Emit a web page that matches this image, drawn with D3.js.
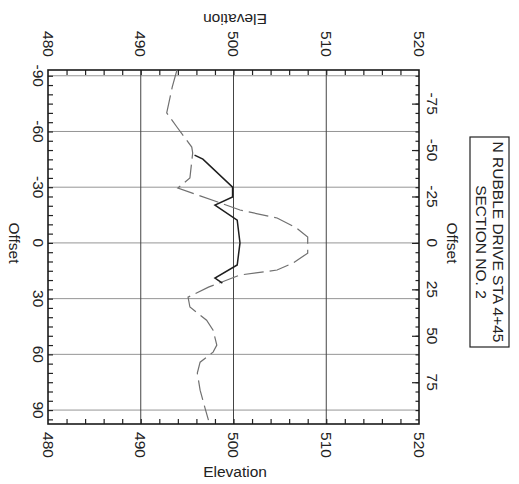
<!DOCTYPE html>
<html>
<head>
<meta charset="utf-8">
<script src="https://cdn.jsdelivr.net/npm/d3@7"></script>
<style>
  body { margin: 0; background: #fff; }
  text { font-family: "Liberation Sans", Arial, sans-serif; fill: #222; }
</style>
</head>
<body>
<script>
// cross section data (offset in ft, elevation in ft)
var groundOffset = [-93, -84, -70, -62.4, -51.6, -48.4, -35, -29.5, -22, -17.7, -13.4, -8, -3.2, -0.5, 5.5, 10.9, 14.6, 17.3, 23.8, 29.2, 34.5, 41.6, 47, 55, 58.8, 64.2, 70.1, 79.3, 88.4, 95.4];
var groundElev = [493.9, 493.4, 492.8, 493.9, 495.5, 495.6, 495.3, 494.0, 498.3, 500.7, 504.7, 506.8, 508.0, 508.0, 508.0, 506.4, 504.7, 500.7, 497.3, 495.1, 495.3, 497.1, 497.8, 498.2, 497.8, 496.4, 496.1, 496.4, 496.9, 497.3];
var designOffset = [-47.3, -45.1, -30, -24.7, -20.4, -12.3, 0, 11.9, 18.9, 21.6];
var designElev = [495.8, 496.7, 499.9, 499.9, 498.0, 500.4, 500.7, 500.4, 498.0, 498.8];

// axis ticks
var elevTicks = [480, 490, 500, 510, 520];
var bottomOffsetTicks = [-90, -60, -30, 0, 30, 60, 90];
var topOffsetTicks = [-75, -50, -25, 0, 25, 50, 75];
var titleLines = ["N RUBBLE DRIVE STA 4+45", "SECTION NO. 2"];

var width = 519, height = 484;
var svg = d3.select("body").append("svg")
    .attr("width", width)
    .attr("height", height);

// page is rotated: elevation runs left to right, offset top to bottom
var x = d3.scaleLinear().domain([480, 520]).range([48, 419]);
var y = d3.scaleLinear().domain([-93.1, 97.5]).range([70, 424]);

//gridlines
svg.selectAll(".hgrid")
    .data(bottomOffsetTicks)
    .enter().append("line")
    .attr("x1", x(480)).attr("x2", x(520))
    .attr("y1", function(d){ return y(d); })
    .attr("y2", function(d){ return y(d); })
    .style("stroke", "#959595").style("stroke-width", 1);

svg.selectAll(".vgrid")
    .data(elevTicks.slice(1, -1))
    .enter().append("line")
    .attr("y1", y.range()[0]).attr("y2", y.range()[1])
    .attr("x1", function(d){ return x(d); })
    .attr("x2", function(d){ return x(d); })
    .style("stroke", "#444").style("stroke-width", 1);

function styleAxis(g){
    g.select(".domain").remove();
    g.selectAll("line").style("stroke", "#222").style("stroke-width", 1.2);
}

var elevMinor = d3.range(482, 520, 2);
var offMinor = d3.range(-90, 96, 5);

// top and bottom elevation ticks (pointing inward)
svg.append("g").attr("transform", "translate(0,70)")
    .call(d3.axisTop(x).tickValues(elevMinor).tickSize(-5).tickFormat(""))
    .call(styleAxis);
svg.append("g").attr("transform", "translate(0,424)")
    .call(d3.axisBottom(x).tickValues(elevMinor).tickSize(-5).tickFormat(""))
    .call(styleAxis);

// left offset ticks
svg.append("g").attr("transform", "translate(48,0)")
    .call(d3.axisLeft(y).tickValues(offMinor).tickSize(-5).tickFormat(""))
    .call(styleAxis);

// right offset ticks, minor and major
svg.append("g").attr("transform", "translate(419,0)")
    .call(d3.axisRight(y).tickValues(offMinor).tickSize(-3.5).tickFormat(""))
    .call(styleAxis);
svg.append("g").attr("transform", "translate(419,0)")
    .call(d3.axisRight(y).tickValues(topOffsetTicks).tickSize(-7).tickFormat(""))
    .call(styleAxis);

// frame
svg.append("rect")
    .attr("x", x(480)).attr("y", y.range()[0])
    .attr("width", x(520) - x(480))
    .attr("height", y.range()[1] - y.range()[0])
    .style("fill", "none").style("stroke", "#1a1a1a").style("stroke-width", 1.6);

// lines
var ground = d3.line()
    .x(function(d, i){ return x(groundElev[i]); })
    .y(function(d){ return y(d); });
svg.append("path")
    .datum(groundOffset)
    .attr("d", ground)
    .style("fill", "none").style("stroke", "#707070")
    .style("stroke-width", 1.2).style("stroke-dasharray", "20,6");

var design = d3.line()
    .x(function(d, i){ return x(designElev[i]); })
    .y(function(d){ return y(d); });
svg.append("path")
    .datum(designOffset)
    .attr("d", design)
    .style("fill", "none").style("stroke", "#1e1e1e").style("stroke-width", 1.5);

// rotated label helper
function label(txt, cx, cy, angle){
    svg.append("text")
        .attr("transform", "translate(" + cx + "," + cy + ") rotate(" + angle + ")")
        .attr("text-anchor", "middle")
        .attr("dy", "0.35em")
        .style("font-size", "15.5px")
        .text(txt);
}

elevTicks.forEach(function(d){
    label(d, x(d), 44, 90);
    label(d, x(d), 445, 90);
});
bottomOffsetTicks.forEach(function(d){ label(d, 38, y(d), 90); });
topOffsetTicks.forEach(function(d){ label(d, 432, y(d), 90); });

label("Elevation", 235, 19, 180);
label("Elevation", 235, 472, 0);
label("Offset", 14, y(0), 90);
label("Offset", 452, y(0), 90);

// title box
svg.append("rect")
    .attr("x", 470).attr("y", 137)
    .attr("width", 39).attr("height", 210)
    .style("fill", "none").style("stroke", "#222").style("stroke-width", 1.2);
label(titleLines[0], 498, 242, 90);
label(titleLines[1], 481, 242, 90);
</script>
</body>
</html>
